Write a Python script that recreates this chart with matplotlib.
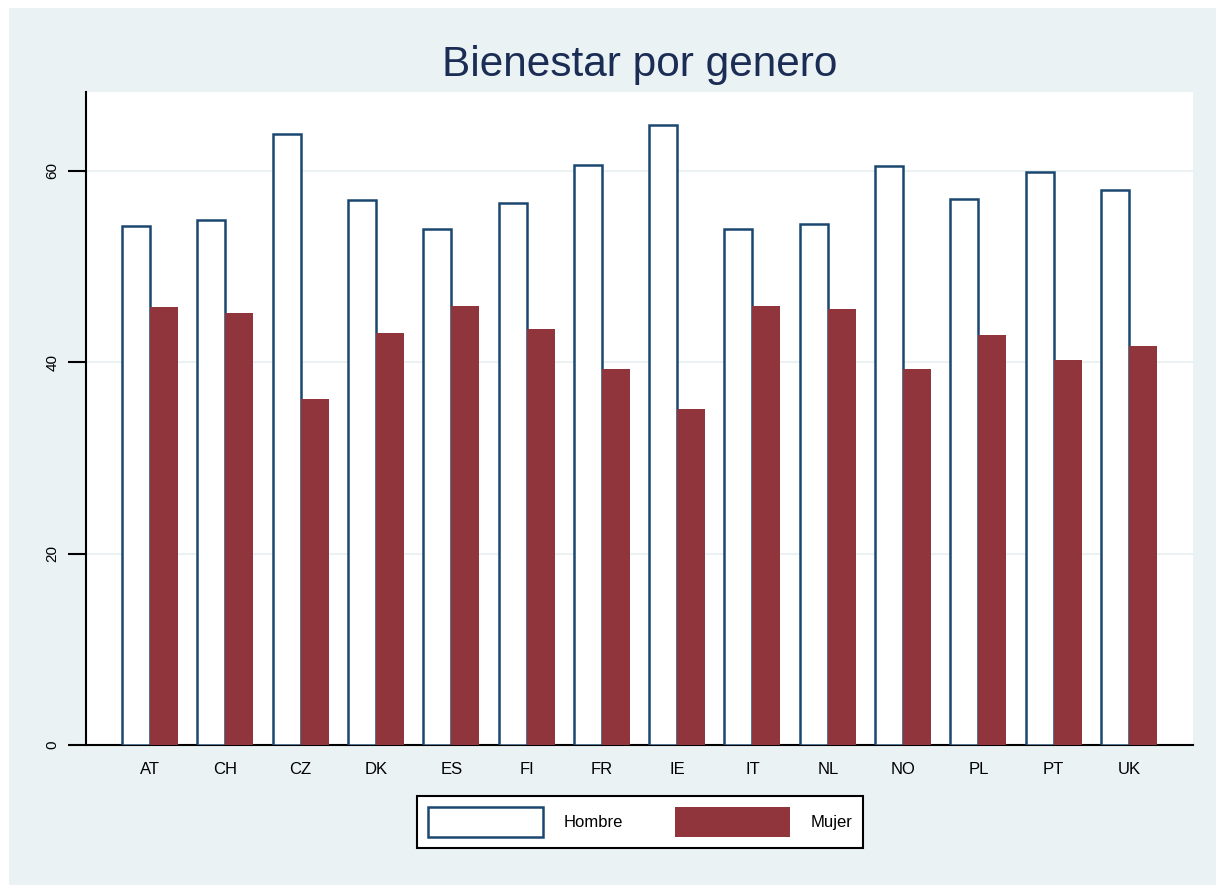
import numpy as np
import matplotlib
matplotlib.use("Agg")
import matplotlib.pyplot as plt
from matplotlib.patches import Rectangle

# data
paises = ["AT", "CH", "CZ", "DK", "ES", "FI", "FR", "IE", "IT", "NL", "NO", "PL", "PT", "UK"]
hombre = [54.2, 54.8, 63.8, 56.9, 53.9, 56.6, 60.6, 64.8, 53.9, 54.4, 60.5, 57.0, 59.8, 58.0]
mujer = [45.7, 45.1, 36.1, 43.0, 45.9, 43.4, 39.3, 35.1, 45.9, 45.5, 39.3, 42.8, 40.2, 41.7]
yticks = [0, 20, 40, 60]

bg = "#eaf2f3"
navy = "#1a476f"
maroon = "#90353b"

fig = plt.figure(figsize=(12.16, 8.85), dpi=100)
fig.patch.set_facecolor("white")
# stata style outer region
fig.patches.append(Rectangle((9 / 1216, 0), 1 - 9 / 1216, 1 - 8 / 885,
                             transform=fig.transFigure, facecolor=bg,
                             edgecolor="none", zorder=-10))

ax = fig.add_axes([86 / 1216, 140 / 885, 1107 / 1216, 653 / 885])
ax.set_facecolor("white")

x = np.arange(len(paises))
w = 0.372
ax.bar(x - w / 2, hombre, width=w, facecolor="white", edgecolor=navy,
       linewidth=1.8, label="Hombre", zorder=3)
ax.bar(x + w / 2, mujer, width=w, facecolor=maroon, edgecolor=maroon,
       linewidth=0, label="Mujer", zorder=3)

ax.set_xlim(-0.85, len(paises) - 1 + 0.85)
ax.set_ylim(0, 68.2)
ax.set_yticks(yticks)
ax.set_yticklabels([str(t) for t in yticks], rotation=90, va="center",
                   fontsize=11, family="Liberation Sans")
ax.set_xticks(x)
ax.set_xticklabels(paises, fontsize=12, family="Liberation Sans")
ax.tick_params(axis="x", length=0, pad=12)
ax.tick_params(axis="y", length=13, width=1.5, pad=6)
ax.yaxis.grid(True, color=bg, linewidth=1.5, zorder=0)
ax.set_axisbelow(True)

for s in ["top", "right"]:
    ax.spines[s].set_visible(False)
ax.spines["left"].set_linewidth(1.5)
ax.spines["bottom"].set_linewidth(1.5)

fig.text(639.5 / 1216, 1 - 65 / 885, "Bienestar por genero", ha="center", va="center",
         fontsize=30.5, color="#1c2d55", family="Liberation Sans")

leg = fig.legend(loc="center", bbox_to_anchor=(640 / 1216, 1 - 822 / 885),
                 ncol=2, frameon=True, fancybox=False, edgecolor="black",
                 framealpha=1, facecolor="white",
                 prop={"family": "Liberation Sans", "size": 12},
                 handlelength=6.9, handleheight=2.4, handletextpad=1.25,
                 columnspacing=3.1, borderpad=0.65, borderaxespad=0)
leg.get_frame().set_linewidth(1.5)

fig.savefig("out.png", dpi=100, facecolor=fig.get_facecolor())
